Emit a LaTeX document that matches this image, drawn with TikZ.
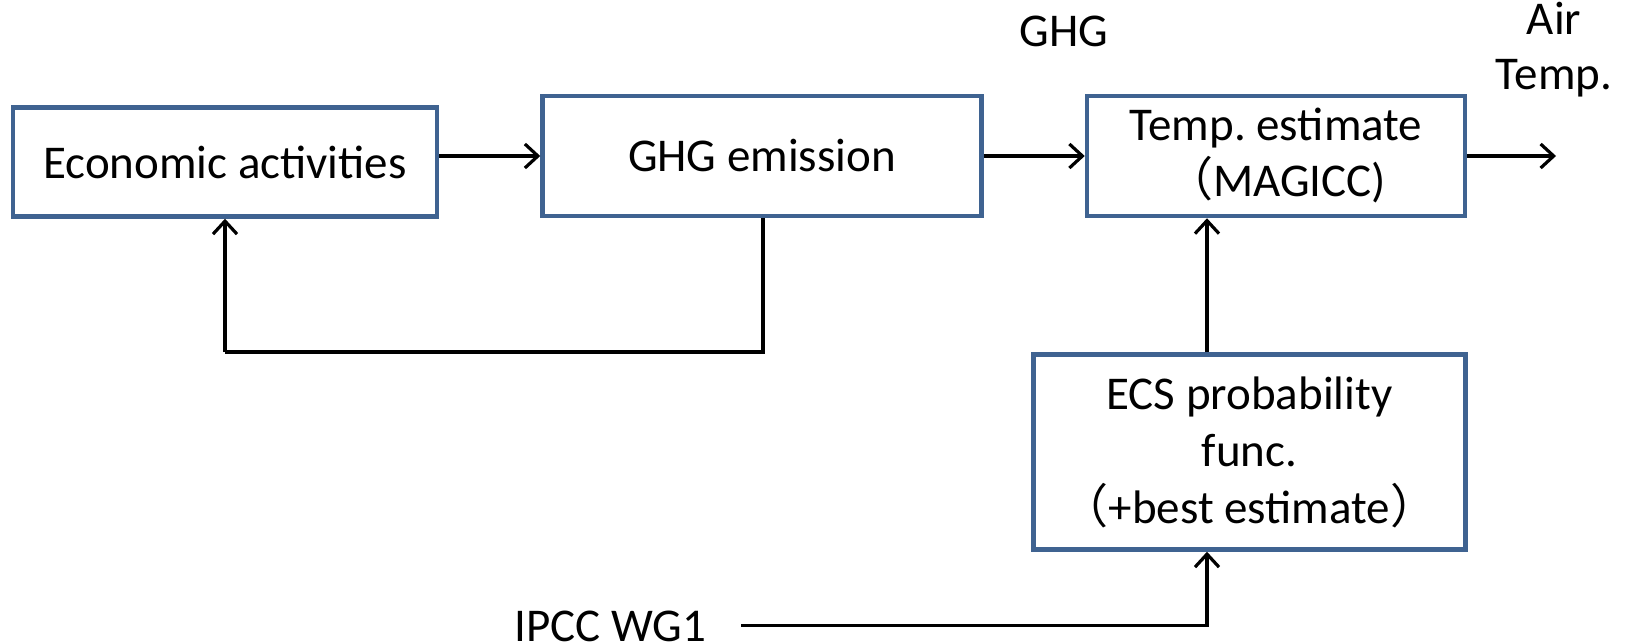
\documentclass[tikz,border=0pt]{standalone}
\usepackage{fontspec}
\setmainfont{Carlito}
\newfontfamily\cjk{Noto Sans CJK JP}
\usetikzlibrary{arrows.meta}
\definecolor{boxblue}{HTML}{3F6391}
\tikzset{
  blk/.style={draw=boxblue, line width=4.5pt, rectangle, align=center, inner sep=0pt, font=\fontsize{47}{57}\selectfont\frenchspacing},
  lbl/.style={align=center, inner sep=0pt, font=\fontsize{47}{55}\selectfont\frenchspacing},
  conn/.style={draw=black, line width=3.2pt},
  arr/.style={conn, -{Straight Barb[length=13pt, width=24pt, line width=3.2pt]}}
}
\begin{document}
\begin{tikzpicture}[x=1pt,y=-1pt]
\useasboundingbox (0,0) rectangle (1632,644);
\node[blk, minimum width=424pt, minimum height=109pt] (econ) at (225,162) {Economic activities};
\node[blk, minimum width=439pt, minimum height=120pt] (ghg) at (762,156) {GHG emission};
\node[blk, minimum width=378pt, minimum height=120pt, font=\fontsize{47}{56}\selectfont\frenchspacing] (temp) at (1276,156) {Temp. estimate\\{\cjk （}MAGICC)};
\node[blk, minimum width=432pt, minimum height=195pt] (ecs) at (1249.5,452) {ECS probability\\func.\\{\cjk （}+best estimate{\cjk ）}};
\node[lbl] (ghglbl) at (1064,31) {GHG};
\node[lbl] (air) at (1554,50) {Air\\Temp.};
\node[lbl, anchor=base west] (ipcc) at (514,641) {IPCC WG1};
\coordinate (out) at (1556,156);
\coordinate (fbr) at (763,352);
\coordinate (fbl) at (225,352);
\coordinate (ecsx) at (1207,0);
\coordinate (ipccend) at (741,625.5);
\draw[arr] (econ.east |- ghg) -- (ghg.west);
\draw[arr] (ghg.east) -- (temp.west);
\draw[arr] (temp.east) -- (out);
\draw[conn] (ghg.south -| fbr) -- (fbr) -- (fbl);
\draw[arr] (fbl) -- (econ.south);
\draw[arr] (ecs.north -| ecsx) -- (temp.south -| ecsx);
\draw[arr] (ipccend) -| (ecs.south -| ecsx);
\end{tikzpicture}
\end{document}
